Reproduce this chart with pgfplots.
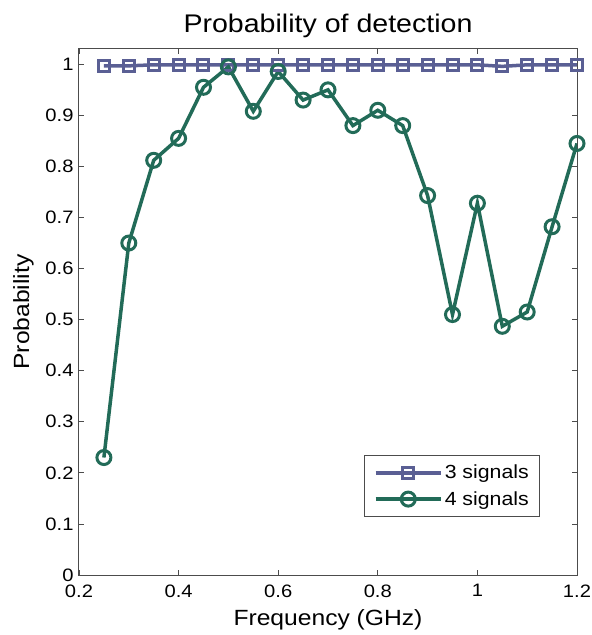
\documentclass[border=0pt]{standalone}
\usepackage{pgfplots}
\pgfplotsset{compat=1.18}
\usepackage{fontspec}
\setmainfont{Liberation Sans}[FakeStretch=1.12]
\definecolor{cblue}{HTML}{5A5F94}
\definecolor{cgreen}{HTML}{226B58}
\begin{document}
\begin{tikzpicture}
\begin{axis}[
  scale only axis,
  width=498pt, height=526pt,
  xmin=0.2, xmax=1.2, ymin=0, ymax=1.03,
  xtick={0.2,0.4,...,1.2},
  ytick={0,0.1,...,1},
  /pgf/number format/assume math mode=true,
  xticklabel style={font=\fontsize{18}{20}\selectfont, /pgf/number format/fixed, /pgf/number format/precision=1, yshift=-6pt},
  yticklabel style={font=\fontsize{18}{20}\selectfont, /pgf/number format/fixed, /pgf/number format/precision=1, xshift=-2pt},
  tick align=inside,
  tick style={color=black!70, line width=0.8pt},
  major tick length=5pt,
  axis line style={color=black!70, line width=1pt},
  title={Probability of detection},
  title style={font=\fontsize{25.5}{28}\selectfont, yshift=2pt},
  xlabel={Frequency (GHz)},
  ylabel={Probability},
  xlabel style={font=\fontsize{22}{24}\selectfont, yshift=-5pt},
  ylabel style={font=\fontsize{22}{24}\selectfont, yshift=5pt},
  legend style={at={(0.926,0.110)}, anchor=south east, font=\fontsize{19}{21}\selectfont, draw=black!70, line width=0.8pt, row sep=7pt, inner xsep=9pt, inner ysep=8pt},
  legend cell align=left,
  legend image code/.code={\draw[#1] (0cm,0cm) -- (2.3cm,0cm); \draw[#1, only marks] plot coordinates {(1.15cm,0cm)};},
]
\addplot[color=cblue, line width=3.5pt, mark=square, mark size=5.5pt, mark options={line width=3pt}]
coordinates {
(0.25,0.997)(0.30,0.997)(0.35,0.999)(0.40,0.999)(0.45,0.999)(0.50,0.999)(0.55,0.999)
(0.60,0.999)(0.65,0.999)(0.70,0.999)(0.75,0.999)(0.80,0.999)(0.85,0.999)(0.90,0.999)
(0.95,0.999)(1.00,0.999)(1.05,0.996)(1.10,0.999)(1.15,0.999)(1.20,0.999)
};
\addlegendentry{3 signals}
\addplot[color=cgreen, line width=3.5pt, mark=o, mark size=7pt, mark options={line width=3pt}]
coordinates {
(0.25,0.23)(0.30,0.65)(0.35,0.812)(0.40,0.855)(0.45,0.955)(0.50,0.995)(0.55,0.908)
(0.60,0.986)(0.65,0.930)(0.70,0.950)(0.75,0.880)(0.80,0.910)(0.85,0.880)(0.90,0.743)
(0.95,0.510)(1.00,0.728)(1.05,0.487)(1.10,0.515)(1.15,0.682)(1.20,0.845)
};
\addlegendentry{4 signals}
\end{axis}
\pgfresetboundingbox
\path (current axis.south west) ++(-79pt,-60pt) rectangle ++(592pt,635pt);
\end{tikzpicture}
\end{document}
